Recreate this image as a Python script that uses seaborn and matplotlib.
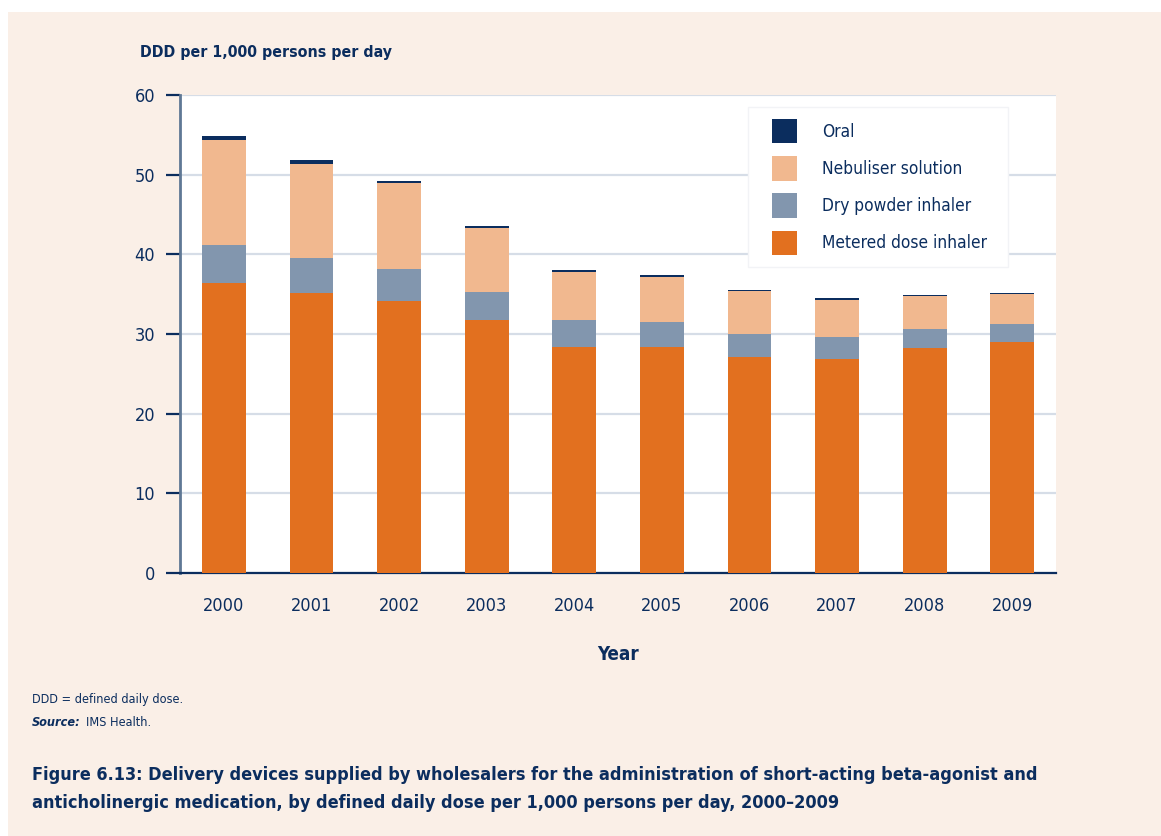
import matplotlib
matplotlib.use("Agg")
import matplotlib.pyplot as plt
import seaborn as sns
import numpy as np
import pandas as pd
from matplotlib.patches import Patch, Rectangle

# Data: DDD per 1,000 persons per day
years = ["2000", "2001", "2002", "2003", "2004", "2005", "2006", "2007", "2008", "2009"]
metered_dose = [36.4, 35.1, 34.1, 31.8, 28.4, 28.4, 27.1, 26.9, 28.2, 29.0]
dry_powder = [4.8, 4.5, 4.0, 3.5, 3.3, 3.1, 2.9, 2.75, 2.4, 2.25]
nebuliser = [13.2, 11.8, 10.9, 8.0, 6.1, 5.65, 5.4, 4.65, 4.15, 3.75]
oral = [0.4, 0.4, 0.25, 0.25, 0.25, 0.25, 0.12, 0.25, 0.12, 0.12]

series_names = ["Metered dose inhaler", "Dry powder inhaler", "Nebuliser solution", "Oral"]
series_values = [metered_dose, dry_powder, nebuliser, oral]
colors = ["#E2701F", "#8296AE", "#F1B88F", "#0B2D5E"]

navy = "#0B2D5E"
bg = "#FAEFE7"

sns.set_theme(style="white")
plt.rcParams["font.family"] = ["DejaVu Sans"]
plt.rcParams["font.stretch"] = "condensed"
plt.rcParams["text.color"] = navy

W, H = 1161, 836
fig = plt.figure(figsize=(W / 100, H / 100), dpi=100, facecolor=bg)

# thin white margin along the left and top edges of the page panel
fig.patches.append(Rectangle((0, 0), 8 / W, 1, transform=fig.transFigure,
                             facecolor="white", edgecolor="none", zorder=0))
fig.patches.append(Rectangle((0, 1 - 12 / H), 1, 12 / H, transform=fig.transFigure,
                             facecolor="white", edgecolor="none", zorder=0))

ax = fig.add_axes([180 / W, 1 - 573 / H, 876 / W, 478 / H])
ax.set_facecolor("white")

# Stacked bars: draw cumulative totals from the top layer downwards
cum = np.cumsum(np.array(series_values), axis=0)
for i in range(len(series_names) - 1, -1, -1):
    df = pd.DataFrame({"Year": years, "value": cum[i]})
    sns.barplot(data=df, x="Year", y="value", color=colors[i], width=0.5,
                saturation=1, ax=ax, zorder=3, linewidth=0)

ax.set_xlim(-0.5, 9.5)
ax.set_ylim(0, 60)
ax.set_yticks(range(0, 61, 10))
ax.yaxis.grid(True, color="#D6DDE7", linewidth=1.6, zorder=0)
ax.xaxis.grid(False)

for s in ["top", "right"]:
    ax.spines[s].set_visible(False)
ax.spines["left"].set_color("#5F7895")
ax.spines["left"].set_linewidth(2)
ax.spines["bottom"].set_color(navy)
ax.spines["bottom"].set_linewidth(1.6)

ax.tick_params(axis="y", which="major", left=True, length=10, width=1.6,
               color=navy, labelsize=13, labelcolor=navy, pad=8)
ax.tick_params(axis="x", bottom=False, labelsize=13, labelcolor=navy, pad=11)

ax.set_xlabel("Year", fontsize=13.5, fontweight="bold", color=navy, labelpad=22)
ax.set_ylabel("")

fig.text(140 / W, 1 - 52 / H, "DDD per 1,000 persons per day", fontsize=11.4,
         fontweight="bold", color=navy, ha="left", va="center")

# Legend panel
fig.patches.append(Rectangle((748 / W, 1 - 267 / H), 260 / W, 160 / H,
                             transform=fig.transFigure, facecolor="white",
                             edgecolor="#F2F3F6", linewidth=1, zorder=4))
handles = [Patch(facecolor=colors[i], edgecolor="none") for i in range(3, -1, -1)]
labels = [series_names[i] for i in range(3, -1, -1)]
leg_fs = 12.4
px = leg_fs * 100 / 72
leg = fig.legend(handles, labels, loc="upper left",
                 bbox_to_anchor=(772 / W, 1 - 119 / H), bbox_transform=fig.transFigure,
                 fontsize=leg_fs, frameon=False,
                 handlelength=25 / px, handleheight=31 / px,
                 handletextpad=25 / px, labelspacing=12.8 / px,
                 borderpad=0, borderaxespad=0)
leg.set_zorder(5)
for t in leg.get_texts():
    t.set_color(navy)

fig.text(32 / W, 1 - 700 / H, "DDD = defined daily dose.", fontsize=9.1,
         color=navy, ha="left", va="center")
fig.text(32 / W, 1 - 722 / H, "Source:", fontsize=9.1, fontweight="bold",
         fontstyle="italic", color=navy, ha="left", va="center")
fig.text(86 / W, 1 - 722 / H, "IMS Health.", fontsize=9.1,
         color=navy, ha="left", va="center")

fig.text(32 / W, 1 - 775 / H,
         "Figure 6.13: Delivery devices supplied by wholesalers for the administration of short-acting beta-agonist and",
         fontsize=12.93, fontweight="bold", color=navy, ha="left", va="center")
fig.text(32 / W, 1 - 803 / H,
         "anticholinergic medication, by defined daily dose per 1,000 persons per day, 2000\u20132009",
         fontsize=12.93, fontweight="bold", color=navy, ha="left", va="center")

fig.savefig("out.png", dpi=100, facecolor=bg)
